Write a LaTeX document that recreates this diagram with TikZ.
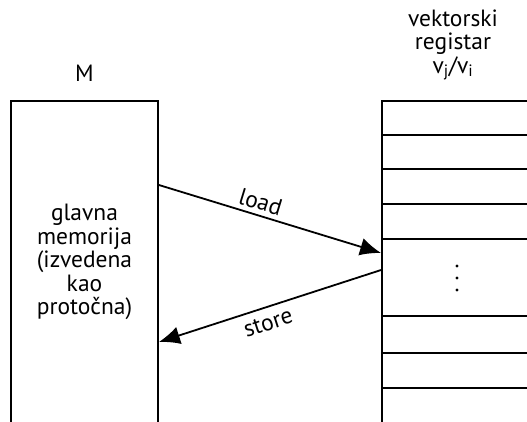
\documentclass[tikz,border=0pt]{standalone}
\usepackage{fontspec}
\setmainfont{PT Sans}
\usetikzlibrary{arrows.meta}
\begin{document}
\begin{tikzpicture}[x=1pt, y=-1pt, >={Latex[length=21pt,width=18pt]}]
      \tikzstyle{blk}=[draw, line width=1.8pt, inner sep=0pt]
      \tikzstyle{txt}=[align=center, font=\fontsize{23.5}{23.5}\selectfont]
      \useasboundingbox (0,0) rectangle (527,422);
      \node[blk, txt, minimum width=147pt, minimum height=322pt] (mem) at (84.5,262)
        {glavna\\memorija\\(izvedena\\kao\\protočna)};
      \node[blk, minimum width=160pt, minimum height=322pt] (reg) at (462,262) {};
      \foreach \y in {135,169,204,239,316,353,388}
        \draw[line width=1.8pt] (382,\y) -- (545,\y);
      \foreach \d in {266,278,290}
        \fill (457,\d) circle (1.7pt);
      \node[txt] (mlbl) at (84.5,73) {M};
      \node[txt] (rlbl) at (453,45) {vektorski\\registar\\v\textsubscript{j}/v\textsubscript{i}};
      \draw[->, line width=1.8pt] ([yshift=77pt]mem.east) -- ([yshift=9pt]reg.west)
        node[txt, pos=0.44, above=1pt, sloped] (load) {load};
      \draw[->, line width=1.8pt] ([yshift=-8pt]reg.west) -- ([yshift=-80pt]mem.east)
        node[txt, pos=0.53, below=4pt, sloped] (store) {store};
    \end{tikzpicture}
\end{document}
